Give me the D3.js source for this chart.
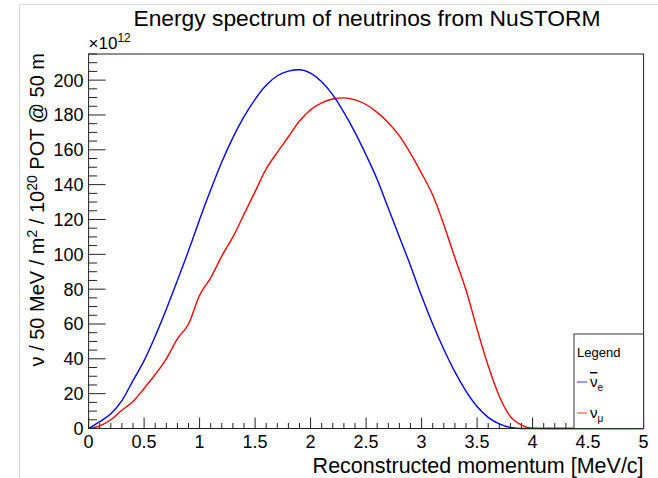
<!DOCTYPE html>
<html>
<head>
<meta charset="utf-8">
<script src="https://cdn.jsdelivr.net/npm/d3@7"></script>
<style>
  body { margin: 0; background: #fff; }
  svg { display: block; font-family: "Liberation Sans", Arial, Helvetica, sans-serif; }
</style>
</head>
<body>
<div id="chart"></div>
<script>
// momentum values (MeV/c) and fluxes (x 10^12)
const momentum = [0, 0.1, 0.2, 0.3, 0.4, 0.5, 0.6, 0.7, 0.8, 0.9, 1.0, 1.1, 1.2, 1.3, 1.4, 1.5, 1.6, 1.7, 1.8, 1.9,
  2.0, 2.1, 2.2, 2.3, 2.4, 2.5, 2.6, 2.7, 2.8, 2.9, 3.0, 3.1, 3.2, 3.3, 3.4, 3.5, 3.6, 3.7, 3.8, 3.9,
  4.0, 4.1, 4.2, 4.3, 4.4, 4.5, 4.6, 4.7, 4.8, 4.9, 5.0];
const nueBar = [0, 3.9, 8.5, 16, 27.5, 39, 53, 68.5, 85, 102, 120, 137, 153, 167, 179, 189, 197, 202.5, 205.2, 206,
  204, 199, 191.5, 181.5, 170, 157, 143, 126.5, 110, 93.5, 76, 60, 45.5, 32.5, 21.5, 12.6, 6.4, 2.6, 0.6, 0,
  0, 0, 0, 0, 0, 0, 0, 0, 0, 0, 0];
const numu = [0, 1.5, 5, 10.5, 15.5, 23, 31, 40, 51.5, 60, 76.5, 86.5, 99, 110, 123, 136, 149, 158.5, 167.5, 176.5,
  183, 187, 189.2, 189.8, 188.7, 186, 181.5, 175.5, 168, 158, 146.5, 134, 117, 98, 79.5, 57, 36, 18.5, 6.8, 2,
  0.2, 0, 0, 0, 0, 0, 0, 0, 0, 0, 0];

const xTicks = [0, 0.5, 1, 1.5, 2, 2.5, 3, 3.5, 4, 4.5, 5];
const yTicks = [0, 20, 40, 60, 80, 100, 120, 140, 160, 180, 200];

const W = 658, H = 478;
const margin = { top: 54, right: 14.4, bottom: 49.5, left: 88.6 };
const width = W - margin.left - margin.right;
const height = H - margin.top - margin.bottom;

const svg = d3.select("#chart").append("svg")
  .attr("width", W)
  .attr("height", H);

// canvas border
svg.append("rect")
  .attr("x", 19.5).attr("y", 4.5)
  .attr("width", W - 19).attr("height", H - 4)
  .attr("fill", "none").attr("stroke", "#dcdcdc");

const g = svg.append("g").attr("transform", `translate(${margin.left},${margin.top})`);

const x = d3.scaleLinear().domain([0, 5]).range([0, width]);
const y = d3.scaleLinear().domain([0, 215]).range([height, 0]);

// minor ticks
const xMinor = d3.range(0, 50.5, 1).map(d => d / 10);
const yMinor = d3.range(0, 216, 5);

g.append("g").selectAll("line").data(xMinor).join("line")
  .attr("x1", d => x(d)).attr("x2", d => x(d))
  .attr("y1", height).attr("y2", d => xTicks.includes(d) ? height - 11 : height - 5.5)
  .attr("stroke", "#222");

g.append("g").selectAll("line").data(yMinor).join("line")
  .attr("y1", d => y(d)).attr("y2", d => y(d))
  .attr("x1", 0).attr("x2", d => yTicks.includes(d) ? 17 : 8.5)
  .attr("stroke", "#222");

// tick labels
g.append("g").selectAll("text").data(xTicks).join("text")
  .attr("x", d => x(d)).attr("y", height + 19)
  .attr("text-anchor", "middle")
  .attr("font-size", 18)
  .text(d => d);

g.append("g").selectAll("text").data(yTicks).join("text")
  .attr("x", -5).attr("y", d => y(d) + 6.5)
  .attr("text-anchor", "end")
  .attr("font-size", 18)
  .text(d => d);

// the curves
const line = d3.line()
  .x(d => x(d[0]))
  .y(d => y(d[1]))
  .curve(d3.curveMonotoneX);

g.append("path")
  .datum(momentum.map((m, i) => [m, numu[i]]))
  .attr("d", line)
  .attr("fill", "none")
  .attr("stroke", "#ff0000")
  .attr("stroke-width", 1.4);

g.append("path")
  .datum(momentum.map((m, i) => [m, nueBar[i]]))
  .attr("d", line)
  .attr("fill", "none")
  .attr("stroke", "#0000ff")
  .attr("stroke-width", 1.4);

// frame
g.append("rect")
  .attr("width", width).attr("height", height)
  .attr("fill", "none").attr("stroke", "#222");

// exponent
const expo = g.append("text").attr("x", 0).attr("y", -5).attr("font-size", 17);
expo.append("tspan").text("×10");
expo.append("tspan").attr("dy", -7).attr("font-size", 12).text("12");

// title
svg.append("text")
  .attr("x", 367).attr("y", 26)
  .attr("text-anchor", "middle")
  .attr("font-size", 22.8)
  .text("Energy spectrum of neutrinos from NuSTORM");

// x title
svg.append("text")
  .attr("x", margin.left + width).attr("y", 473)
  .attr("text-anchor", "end")
  .attr("font-size", 21.5)
  .text("Reconstructed momentum [MeV/c]");

// y title
const yt = svg.append("text")
  .attr("transform", `translate(44,${margin.top - 1}) rotate(-90)`)
  .attr("text-anchor", "end")
  .attr("font-size", 20);
yt.append("tspan").text("ν / 50 MeV / m");
yt.append("tspan").attr("dy", -7).attr("font-size", 14).text("2");
yt.append("tspan").attr("dy", 7).text(" / 10");
yt.append("tspan").attr("dy", -7).attr("font-size", 14).text("20");
yt.append("tspan").attr("dy", 7).text(" POT @ 50 m");

// legend
const lg = svg.append("g").attr("transform", `translate(574,334)`);
lg.append("rect")
  .attr("width", margin.left + width - 574).attr("height", margin.top + height - 334)
  .attr("fill", "#fff").attr("stroke", "#333");
lg.append("text").attr("x", 3).attr("y", 23).attr("font-size", 13).text("Legend");

const entries = [
  { color: "#6f6fff", name: "ν", sub: "e", bar: true, yy: 48 },
  { color: "#ff6f6f", name: "ν", sub: "μ", bar: false, yy: 79 }
];
entries.forEach(e => {
  lg.append("line")
    .attr("x1", 3).attr("x2", 13)
    .attr("y1", e.yy).attr("y2", e.yy)
    .attr("stroke", e.color).attr("stroke-width", 1.4);
  const t = lg.append("text").attr("x", 16).attr("y", e.yy + 5).attr("font-size", 15);
  t.append("tspan").style("text-decoration", e.bar ? "overline" : "none").text(e.name);
  t.append("tspan").attr("dy", 4).attr("font-size", 10).text(e.sub);
});
</script>
</body>
</html>
